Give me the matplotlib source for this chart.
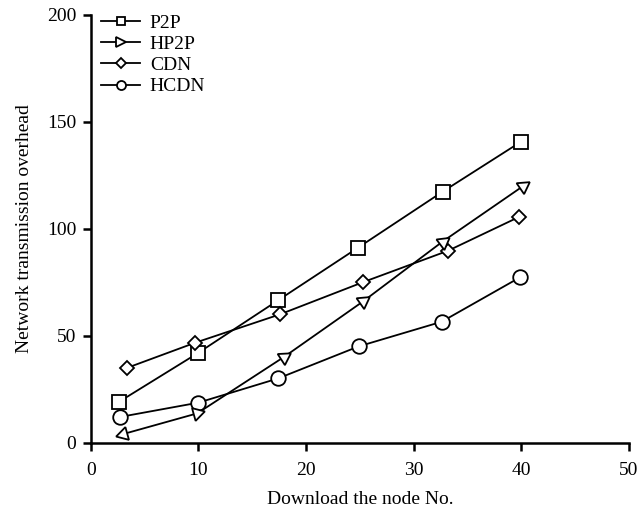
import numpy as np
import matplotlib
matplotlib.use("Agg")
import matplotlib.pyplot as plt
from matplotlib.lines import Line2D

plt.rcParams['font.family'] = ['Liberation Serif', 'DejaVu Serif']

series_names = ["P2P", "HP2P", "CDN", "HCDN"]
p2p_x = [2.6, 10.0, 17.4, 24.8, 32.7, 40.0]
p2p_y = [19.0, 42.0, 66.5, 91.0, 117.3, 140.7]
hp2p_x = [3.0, 9.9, 18.0, 25.3, 32.7, 40.2]
hp2p_y = [4.0, 13.7, 40.2, 66.0, 94.0, 120.0]
cdn_x = [3.4, 9.7, 17.6, 25.3, 33.2, 39.8]
cdn_y = [35.0, 46.7, 60.0, 75.0, 89.7, 105.5]
hcdn_x = [2.7, 10.0, 17.4, 24.9, 32.6, 39.9]
hcdn_y = [12.0, 18.7, 30.0, 45.0, 56.5, 77.3]

x_ticks = [0, 10, 20, 30, 40, 50]
y_ticks = [0, 50, 100, 150, 200]

fs = 14

fig = plt.figure(figsize=(6.41, 5.11), dpi=100)
ax = fig.add_axes([0.1415, 0.1337, 0.8395, 0.8375])
ax.set_xlim(0, 50)
ax.set_ylim(0, 200)

lw = 1.3
mk = dict(markerfacecolor='white', markeredgecolor='black', markeredgewidth=1.3, color='black', linewidth=lw)

ax.plot(p2p_x, p2p_y, marker='s', markersize=10, label=series_names[0], **mk)
ax.plot(cdn_x, cdn_y, marker='D', markersize=7.5, label=series_names[2], zorder=2.5, **mk)
ax.plot(hcdn_x, hcdn_y, marker='o', markersize=10.5, label=series_names[3], **mk)

# HP2P: line plus arrow-like rotated triangles
ax.plot(hp2p_x, hp2p_y, color='black', linewidth=lw, zorder=2.6)
fig.canvas.draw()
pts = ax.transData.transform(np.column_stack([hp2p_x, hp2p_y]))
for i in range(len(hp2p_x)):
    if i == 0:
        d = pts[0] - pts[1]
    else:
        d = pts[i] - pts[i - 1]
    ang = np.degrees(np.arctan2(d[1], d[0]))
    ax.plot([hp2p_x[i]], [hp2p_y[i]], linestyle='none', marker=(3, 0, ang - 90),
            markersize=11, markerfacecolor='white', markeredgecolor='black',
            markeredgewidth=1.3, zorder=2.7)

handles = [
    Line2D([], [], marker='s', markersize=6, **mk),
    Line2D([], [], marker='>', markersize=7, **mk),
    Line2D([], [], marker='D', markersize=5.5, **mk),
    Line2D([], [], marker='o', markersize=6.5, **mk),
]
leg = ax.legend(handles, series_names, loc='upper left', bbox_to_anchor=(0.005, 1.019),
                frameon=False, fontsize=fs, handlelength=2.0, handletextpad=0.5,
                labelspacing=0.18, borderaxespad=0.0, borderpad=0.4)

for s in ['top', 'right']:
    ax.spines[s].set_visible(False)
for s in ['left', 'bottom']:
    ax.spines[s].set_linewidth(1.8)

ax.set_xticks(x_ticks)
ax.set_yticks(y_ticks)
ax.tick_params(direction='out', length=5.5, width=1.8, labelsize=fs, pad=5)
ax.tick_params(axis='x', pad=8.5)

ax.set_xlabel("Download the node No.", fontsize=fs, labelpad=8.5)
ax.set_ylabel("Network transmission overhead", fontsize=fs, labelpad=10)

fig.savefig("out.png", dpi=100)
